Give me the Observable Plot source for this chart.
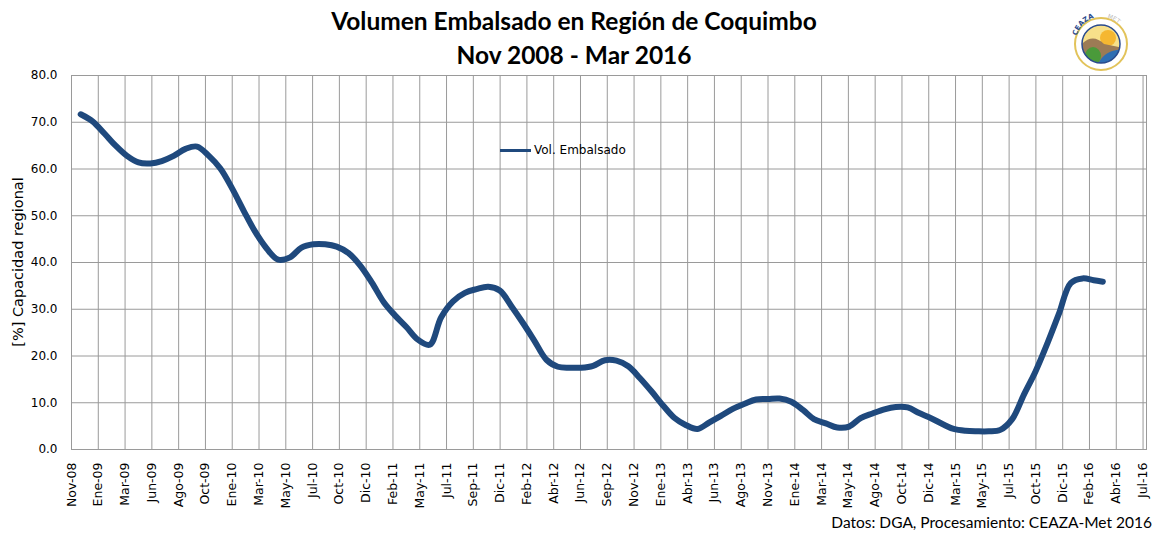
<!DOCTYPE html>
<html><head><meta charset="utf-8">
<script src="https://cdn.jsdelivr.net/npm/d3@7"></script>
<script src="https://cdn.jsdelivr.net/npm/@observablehq/plot@0.6"></script>
<style>
body{margin:0;background:#fff;}
#wrap{position:relative;width:1157px;height:537px;overflow:hidden;font-family:"DejaVu Sans",sans-serif;}
#chart{position:absolute;left:0;top:0;}
.title{position:absolute;left:274px;width:600px;text-align:center;font-family:Lato,sans-serif;font-weight:bold;font-size:24.5px;color:#000;line-height:34px;top:4px;}
.ytitle{position:absolute;left:18px;top:262px;transform:translate(-50%,-50%) rotate(-90deg);white-space:nowrap;font-size:14.5px;color:#000;}
.footer{position:absolute;right:5px;top:513px;font-family:Lato,sans-serif;font-size:15.5px;color:#000;white-space:nowrap;}
.legend{position:absolute;left:500px;top:143px;display:flex;align-items:center;font-size:12px;color:#000;}
.legend .sw{width:31px;height:3px;background:#1f497d;margin-right:3px;}
.logo{position:absolute;left:1068px;top:2px;}
</style>
</head><body>
<div id="wrap">
  <div id="chart"></div>
  <div class="title">Volumen Embalsado en Región de Coquimbo<br>Nov 2008 - Mar 2016</div>
  <div class="ytitle">[%] Capacidad regional</div>
  <div class="legend"><div class="sw"></div><span>Vol. Embalsado</span></div>
  <div class="footer">Datos: DGA, Procesamiento: CEAZA-Met 2016</div>
  <svg class="logo" width="66" height="72" viewBox="0 0 66 72">
    <defs>
      <path id="arc" d="M8,40 A25,25 0 0 1 58,40"/>
      <clipPath id="inner"><circle cx="33" cy="42" r="19"/></clipPath>
    </defs>
    <circle cx="33" cy="42" r="26" fill="#fff" stroke="#e2c35a" stroke-width="2"/>
    <text font-size="7" font-weight="bold" fill="#2a4b8d" font-family="DejaVu Sans"><textPath href="#arc" startOffset="8%">CEAZA</textPath></text>
    <text font-size="6" fill="#bbb" font-family="DejaVu Sans"><textPath href="#arc" startOffset="58%">MET</textPath></text>
    <g clip-path="url(#inner)">
      <rect x="10" y="20" width="46" height="46" fill="#f7e08a"/>
      <circle cx="40" cy="36" r="8" fill="#f5b731"/>
      <path d="M12,44 Q24,30 36,42 L56,46 L56,66 L12,66Z" fill="#9c7b55"/>
      <path d="M28,66 Q36,46 56,48 L56,66Z" fill="#2f6fb3"/>
      <ellipse cx="25" cy="54" rx="8" ry="9" fill="#4a9a3a"/>
    </g>
    <circle cx="33" cy="42" r="19" fill="none" stroke="#2a4b8d" stroke-width="1.5"/>
  </svg>
</div>
<script>
// Tick labels of the date axis (one every 70 days from 7 Nov 2008)
const tickLabels = ["Nov-08","Ene-09","Mar-09","Jun-09","Ago-09","Oct-09","Ene-10","Mar-10","May-10","Jul-10","Oct-10","Dic-10","Feb-11","May-11","Jul-11","Sep-11","Dic-11","Feb-12","Abr-12","Jun-12","Sep-12","Nov-12","Ene-13","Abr-13","Jun-13","Ago-13","Nov-13","Ene-14","Mar-14","May-14","Ago-14","Oct-14","Dic-14","Mar-15","May-15","Jul-15","Oct-15","Dic-15","Feb-16","Abr-16","Jul-16"];
const yTicks = [0,10,20,30,40,50,60,70,80];

// Series: Vol. Embalsado (% of regional capacity)
const dates = ["2008-12-01","2009-01-01","2009-02-01","2009-03-01","2009-04-01","2009-05-01","2009-06-01","2009-07-01","2009-08-01","2009-09-01","2009-10-01","2009-11-01","2009-12-01",
"2010-01-01","2010-02-01","2010-03-01","2010-04-01","2010-05-01","2010-06-01","2010-07-01","2010-08-01","2010-09-01","2010-10-01","2010-11-01","2010-12-01",
"2011-01-01","2011-02-01","2011-03-01","2011-04-01","2011-05-01","2011-06-01","2011-07-01","2011-08-01","2011-09-01","2011-10-01","2011-11-01","2011-12-01",
"2012-01-01","2012-02-01","2012-03-01","2012-04-01","2012-05-01","2012-06-01","2012-07-01","2012-08-01","2012-09-01","2012-10-01","2012-11-01","2012-12-01",
"2013-01-01","2013-02-01","2013-03-01","2013-04-01","2013-05-01","2013-06-01","2013-07-01","2013-08-01","2013-09-01","2013-10-01","2013-11-01","2013-12-01",
"2014-01-01","2014-02-01","2014-03-01","2014-04-01","2014-05-01","2014-06-01","2014-07-01","2014-08-01","2014-09-01","2014-10-01","2014-11-01","2014-12-01",
"2015-01-01","2015-02-01","2015-03-01","2015-04-01","2015-05-01","2015-06-01","2015-07-01","2015-08-01","2015-09-01","2015-10-01","2015-11-01","2015-12-01",
"2016-01-01","2016-02-01","2016-03-01","2016-03-25"];
const volumes = [71.7,70.2,67.6,65.1,62.8,61.4,61.2,61.7,62.8,64.3,64.8,62.8,60.1,
55.8,50.9,46.7,43.0,40.6,41.1,43.2,43.9,43.9,43.4,42.0,39.4,
35.7,31.5,28.8,26.2,23.5,22.4,28.3,31.7,33.5,34.3,34.8,34.0,
30.6,26.9,23.2,19.2,17.7,17.5,17.5,17.9,19.1,19.0,17.8,15.3,
12.4,9.3,6.8,5.2,4.4,5.8,7.2,8.7,9.8,10.7,10.8,10.9,
10.2,8.4,6.5,5.6,4.7,4.9,6.7,7.7,8.6,9.1,9.0,7.8,
6.7,5.4,4.4,4.0,3.9,3.9,4.2,6.5,11.8,16.7,22.7,29.0,
35.6,36.6,36.2,35.9];

const data = dates.map((d, i) => ({date: new Date(d), vol: volumes[i]}));
const start = new Date(Date.UTC(2008, 10, 7));
const tickDates = tickLabels.map((_, i) => d3.utcDay.offset(start, 70 * i));
const end = d3.utcDay.offset(start, 2809);
const grid = "#9a9a9a";

const chart = Plot.plot({
  width: 1157, height: 537,
  marginTop: 75, marginBottom: 88, marginLeft: 71, marginRight: 11,
  style: {fontFamily: "DejaVu Sans, sans-serif", fontSize: "12px", color: "#000", background: "transparent"},
  x: {type: "utc", domain: [start, end]},
  y: {domain: [0, 80]},
  marks: [
    Plot.gridY(yTicks, {stroke: grid, strokeOpacity: 1}),
    Plot.gridX(tickDates, {stroke: grid, strokeOpacity: 1}),
    Plot.frame({stroke: grid}),
    Plot.axisY(yTicks, {tickSize: 0, tickPadding: 14, tickFormat: d => d.toFixed(1), label: null, fontSize: 12}),
    Plot.axisX(tickDates, {tickSize: 0, tickPadding: 13, tickRotate: -90, label: null, fontSize: 12.5,
      tickFormat: d => tickLabels[tickDates.findIndex(t => +t === +d)]}),
    Plot.line(data, {x: "date", y: "vol", stroke: "#1f497d", strokeWidth: 6, curve: "catmull-rom", strokeLinecap: "round", strokeLinejoin: "round"})
  ]
});
document.getElementById("chart").appendChild(chart);
</script>
</body></html>
